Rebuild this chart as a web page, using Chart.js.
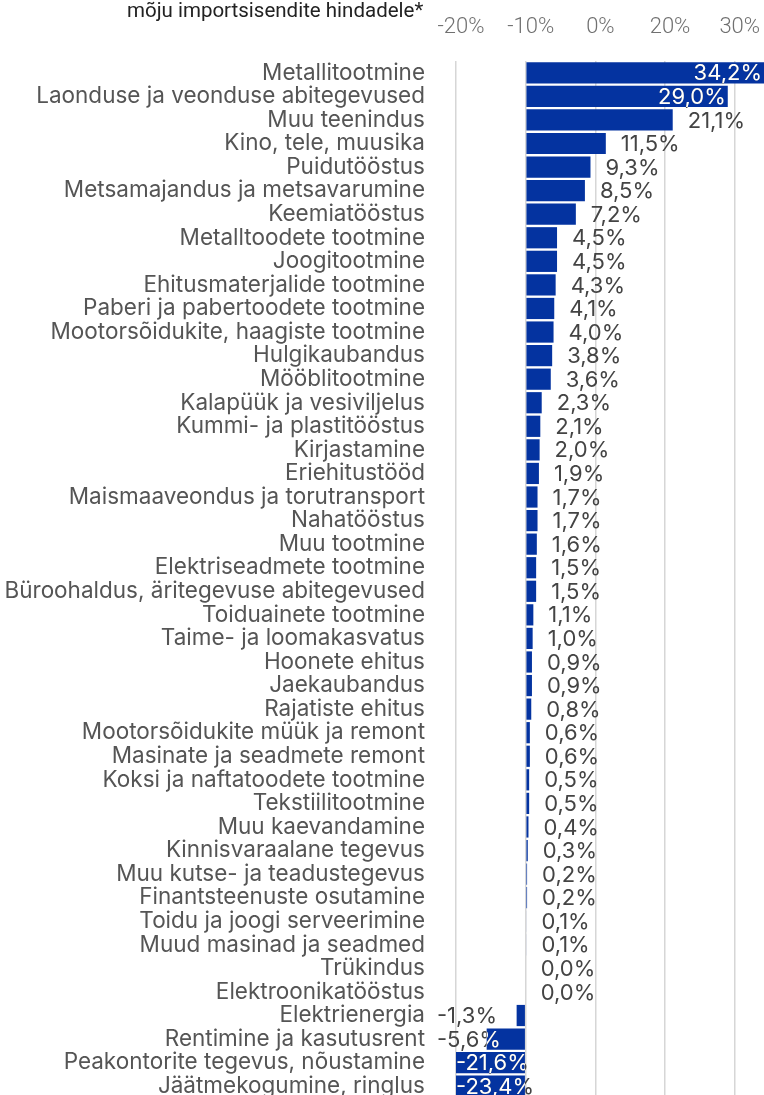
<!DOCTYPE html>
<html>
<head>
<meta charset="utf-8">
<script src="https://cdn.jsdelivr.net/npm/chart.js@4.4.1/dist/chart.umd.min.js"></script>
<style>
    html, body { margin: 0; padding: 0; background: #fff; overflow: hidden; }
    #impact-chart { position: absolute; left: 0; top: 0; }
    #title { position: absolute; left: 127px; top: -2px; font: 20.5px Roboto, sans-serif; color: #222; white-space: nowrap; }
</style>
</head>
<body>
<canvas id="impact-chart" width="764" height="1098"></canvas>
<div id="title">mõju importsisendite hindadele*</div>
<script>
const categories = [
    'Metallitootmine', 'Laonduse ja veonduse abitegevused', 'Muu teenindus', 'Kino, tele, muusika',
    'Puidutööstus', 'Metsamajandus ja metsavarumine', 'Keemiatööstus', 'Metalltoodete tootmine',
    'Joogitootmine', 'Ehitusmaterjalide tootmine', 'Paberi ja pabertoodete tootmine',
    'Mootorsõidukite, haagiste tootmine', 'Hulgikaubandus', 'Mööblitootmine', 'Kalapüük ja vesiviljelus',
    'Kummi- ja plastitööstus', 'Kirjastamine', 'Eriehitustööd', 'Maismaaveondus ja torutransport',
    'Nahatööstus', 'Muu tootmine', 'Elektriseadmete tootmine', 'Büroohaldus, äritegevuse abitegevused',
    'Toiduainete tootmine', 'Taime- ja loomakasvatus', 'Hoonete ehitus', 'Jaekaubandus', 'Rajatiste ehitus',
    'Mootorsõidukite müük ja remont', 'Masinate ja seadmete remont', 'Koksi ja naftatoodete tootmine',
    'Tekstiilitootmine', 'Muu kaevandamine', 'Kinnisvaraalane tegevus', 'Muu kutse- ja teadustegevus',
    'Finantsteenuste osutamine', 'Toidu ja joogi serveerimine', 'Muud masinad ja seadmed', 'Trükindus',
    'Elektroonikatööstus', 'Elektrienergia', 'Rentimine ja kasutusrent', 'Peakontorite tegevus, nõustamine',
    'Jäätmekogumine, ringlus'
];

const impactValues = [
    34.2, 29.0, 21.1, 11.5, 9.3, 8.5, 7.2, 4.5, 4.5, 4.3, 4.1, 4.0, 3.8, 3.6, 2.3, 2.1, 2.0, 1.9, 1.7, 1.7,
    1.6, 1.5, 1.5, 1.1, 1.0, 0.9, 0.9, 0.8, 0.6, 0.6, 0.5, 0.5, 0.4, 0.3, 0.2, 0.2, 0.1, 0.1, 0.0, 0.0,
    -1.3, -5.6, -21.6, -23.4
];

// tick positions and the labels printed at them (as in the source picture)
const tickValues = [-10, 0, 10, 20, 30];
const tickLabels = ['-20%', '-10%', '0%', '20%', '30%'];

const fmt = v => v.toFixed(1).replace('.', ',') + '%';

// value labels: outside the bar end, inside (white) when they would not fit
const valueLabels = {
    id: 'valueLabels',
    afterDatasetsDraw(chart) {
        const ctx = chart.ctx;
        const area = chart.chartArea;
        const meta = chart.getDatasetMeta(0);
        ctx.save();
        ctx.font = '22px Inter, sans-serif';
        ctx.textBaseline = 'middle';
        meta.data.forEach((bar, i) => {
            const v = impactValues[i];
            const text = fmt(v);
            const w = ctx.measureText(text).width;
            const end = Math.max(area.left, Math.min(area.right, bar.x));
            let x;
            if (v >= 0) {
                x = end + 15;
                if (x + w > chart.width) x = end - w - 2;
            } else if (bar.x < area.left) {
                x = area.left;
            } else {
                x = area.left - 19;
            }
            const y = bar.y + 1;
            ctx.fillStyle = '#444';
            ctx.fillText(text, x, y);
            // the part over the bar is white
            const left = Math.min(end, Math.max(area.left, bar.base));
            const right = Math.max(end, Math.max(area.left, bar.base));
            ctx.save();
            ctx.beginPath();
            ctx.rect(left, bar.y - bar.height / 2, right - left, bar.height);
            ctx.clip();
            ctx.fillStyle = '#fff';
            ctx.fillText(text, x, y);
            ctx.restore();
        });
        ctx.restore();
    }
};

new Chart(document.getElementById('impact-chart'), {
    type: 'bar',
    data: {
        labels: categories,
        datasets: [{
            data: impactValues,
            backgroundColor: '#0433a0',
            borderWidth: 0,
            barPercentage: 0.9,
            categoryPercentage: 1
        }]
    },
    options: {
        responsive: false,
        indexAxis: 'y',
        animation: false,
        layout: { autoPadding: false, padding: { top: 12, right: 0, bottom: 0, left: 0 } },
        plugins: {
            legend: { display: false },
            tooltip: { enabled: false }
        },
        scales: {
            x: {
                position: 'top',
                min: -10,
                max: 34.2,
                afterBuildTicks: axis => { axis.ticks = tickValues.map(v => ({ value: v })); },
                afterFit: scale => {
                    scale.height = 49;
                    scale.paddingLeft = 0;
                    scale.paddingRight = 0;
                },
                grid: { color: '#d6d6d6', lineWidth: 1.5, drawTicks: false },
                border: { display: false },
                ticks: {
                    padding: 20,
                    labelOffset: 5,
                    color: '#707070',
                    font: { family: 'Roboto', size: 22, weight: 300 },
                    callback: (value, index) => tickLabels[index]
                }
            },
            y: {
                afterFit: scale => {
                    scale.width = 456;
                    scale.paddingTop = 0;
                    scale.paddingBottom = 0;
                },
                grid: { display: false, drawTicks: false },
                border: { display: false },
                ticks: {
                    padding: 31,
                    color: '#555',
                    autoSkip: false,
                    font: { family: 'Inter', size: 22.5 }
                }
            }
        }
    },
    plugins: [valueLabels]
});
</script>
</body>
</html>
